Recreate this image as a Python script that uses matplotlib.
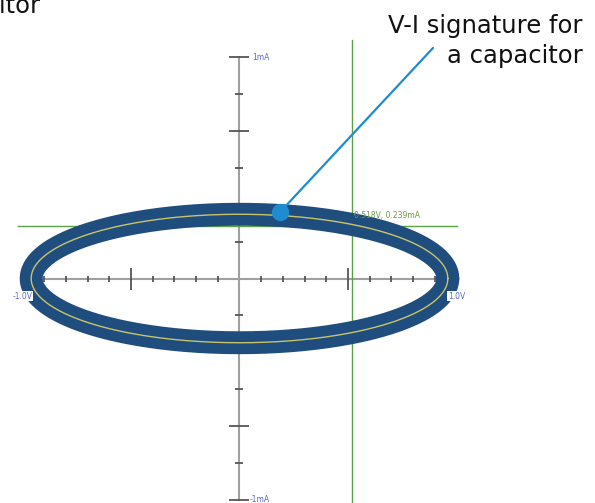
import matplotlib
matplotlib.use('Agg')
import matplotlib.pyplot as plt
import numpy as np

# V-I trace of a capacitor (ellipse), volts and milliamps
amp_v = 0.96
amp_ma = 0.29
cursor_v = 0.518
cursor_ma = 0.239
dot_v = 0.187
dot_ma = 0.30

v_ticks = [-0.9, -0.8, -0.7, -0.6, -0.4, -0.3, -0.2, -0.1, 0.1, 0.2, 0.3, 0.4, 0.6, 0.7, 0.8, 0.9]
v_major = [-0.5, 0.5]
ma_ticks = [-5/6, -1/2, -1/6, 1/6, 1/2, 5/6]
ma_major = [-1, -2/3, -1/3, 1/3, 2/3, 1]

fig = plt.figure(figsize=(5.95, 5.03), dpi=100)
ax = fig.add_axes([0, 0, 1, 1])
ax.set_xlim(-239.5 / 217, (595 - 239.5) / 217)
ax.set_ylim((278.5 - 503) / 221.5, 278.5 / 221.5)
ax.axis('off')

# axes of the scope display
ax.plot([-1, 1], [0, 0], color='#a0a0a0', lw=1.5, zorder=1)
ax.plot([0, 0], [-1, 1], color='#a0a0a0', lw=1.5, zorder=1)
ax.plot(v_ticks, np.zeros(len(v_ticks)), ls='none', marker='|', ms=5, mew=1.3, color='#555555', zorder=1)
ax.plot(v_major, np.zeros(len(v_major)), ls='none', marker='|', ms=16, mew=1.3, color='#555555', zorder=1)
ax.plot(np.zeros(len(ma_ticks)), ma_ticks, ls='none', marker='_', ms=6, mew=1.3, color='#555555', zorder=1)
ax.plot(np.zeros(len(ma_major)), ma_major, ls='none', marker='_', ms=14.5, mew=1.3, color='#555555', zorder=1)

# cursor lines
ax.axvline(cursor_v, ymax=(503 - 40) / 503, color='#5aa046', lw=1, zorder=2)
ax.plot([-1.02, 1.0], [cursor_ma, cursor_ma], color='#5aa046', lw=1, zorder=2)

# trace
t = np.linspace(0, 2 * np.pi, 400)
ax.plot(amp_v * np.cos(t), amp_ma * np.sin(t), color='#1f4d7d', lw=16.5, zorder=3, solid_capstyle='round')
ax.plot(amp_v * np.cos(t), amp_ma * np.sin(t), color='#c9c46a', lw=1, zorder=4)

# scale labels
lab = dict(fontsize=5.5, color='#5a6ad2', zorder=6)
ax.text(0.058, 1, '1mA', ha='left', va='center', **lab)
ax.text(0.045, -1, '-1mA', ha='left', va='center', **lab)
ax.text(-1.0, -0.08, '-1.0V', ha='center', va='center',
        bbox=dict(boxstyle='square,pad=0.1', fc='white', ec='none'), **lab)
ax.text(1.0, -0.08, '1.0V', ha='center', va='center',
        bbox=dict(boxstyle='square,pad=0.1', fc='white', ec='none'), **lab)
ax.text(cursor_v + 0.01, cursor_ma + 0.045, '0.518V, 0.239mA', ha='left', va='center',
        fontsize=5.5, color='#6a9a40', zorder=6)

# callout
ax.annotate('', xy=(dot_v, dot_ma), xytext=(433, 455), textcoords='figure pixels',
            arrowprops=dict(arrowstyle='-', color='#1f8bd0', lw=1.6, shrinkA=0, shrinkB=0), zorder=7)
ax.plot([dot_v], [dot_ma], 'o', ms=11.5, color='#1f8bd0', zorder=8)
fig.text(583 / 595, 1 - 63 / 503, 'V-I signature for\na capacitor', ha='right', va='baseline',
         fontsize=17.5, color='#111111', linespacing=1.32)
fig.text(41 / 595, 1 - 12.5 / 503, 'capacitor', ha='right', va='baseline', fontsize=17.5, color='#111111')

fig.savefig('out.png', dpi=100)
